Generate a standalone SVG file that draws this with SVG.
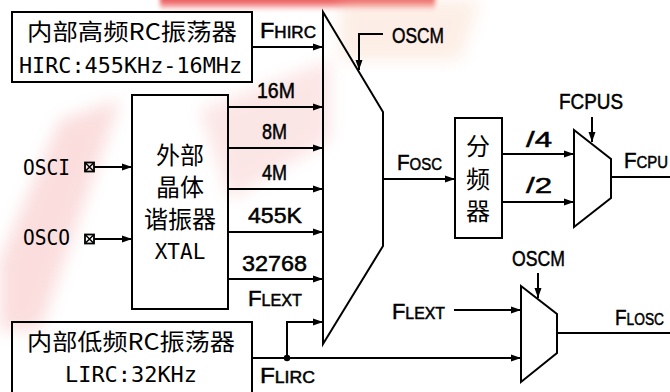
<svg xmlns="http://www.w3.org/2000/svg" width="670" height="392" viewBox="0 0 670 392">
<defs>
<marker id="ah" markerUnits="userSpaceOnUse" markerWidth="11" markerHeight="8" refX="10" refY="4" orient="auto">
<path d="M0,0.5 L10,4 L0,7.5 z" fill="#000"/>
</marker>
<linearGradient id="topred" x1="0" y1="0" x2="0" y2="1">
<stop offset="0" stop-color="#e01818" stop-opacity="1"/>
<stop offset="0.6" stop-color="#ee5050" stop-opacity="0.7"/>
<stop offset="1" stop-color="#f8a0a0" stop-opacity="0"/>
</linearGradient>
<filter id="blur" x="-20%" y="-20%" width="140%" height="140%"><feGaussianBlur stdDeviation="8"/></filter>
<filter id="blur2" x="-10%" y="-50%" width="120%" height="200%"><feGaussianBlur stdDeviation="2"/></filter>
</defs>
<style>
.ln{fill:none;stroke:#000;stroke-width:2}
.ar{fill:none;stroke:#000;stroke-width:2;marker-end:url(#ah)}
.box{fill:none;stroke:#000;stroke-width:2}
.cjk{font-family:"Noto Sans CJK SC","Liberation Sans",sans-serif;font-size:23px;fill:#000}
.cjkc{font-family:"Noto Sans CJK SC",sans-serif;font-size:24px;fill:#000;text-anchor:middle}
.mono{font-family:"DejaVu Sans Mono","Liberation Mono",monospace;font-size:22px;fill:#000}
.lab{font-family:"Liberation Sans",Arial,sans-serif;font-size:22px;fill:#000;stroke:#000;stroke-width:0.5}
.sm{font-size:16px}
</style>
<g id="watermark">
<rect x="160" y="-4" width="275" height="15" fill="url(#topred)" filter="url(#blur2)" opacity="0.9"/>
<path d="M60,120 L120,100 L40,330 L0,330 L0,260 z" fill="#f4a0a0" filter="url(#blur)" opacity="0.35"/>
<path d="M200,110 L330,60 L330,140 L230,200 z" fill="#f6b8b8" filter="url(#blur)" opacity="0.35"/>
<path d="M340,0 L480,0 L460,60 L340,60 z" fill="#f8d0b8" filter="url(#blur)" opacity="0.35"/>
</g>
<g id="connectors">
<line class="ar" x1="252" y1="47" x2="323" y2="47"/>
<line class="ar" x1="228" y1="107" x2="323" y2="107"/>
<line class="ar" x1="228" y1="148" x2="323" y2="148"/>
<line class="ar" x1="228" y1="189" x2="323" y2="189"/>
<line class="ar" x1="228" y1="232" x2="323" y2="232"/>
<line class="ar" x1="228" y1="279" x2="323" y2="279"/>
<polyline class="ar" points="287,358 287,322 323,322"/>
<line class="ar" x1="252" y1="358" x2="521" y2="358"/>
<circle cx="287" cy="358" r="3.2" fill="#000"/>
<line class="ar" x1="94" y1="167" x2="132" y2="167"/>
<line class="ar" x1="94" y1="239" x2="132" y2="239"/>
<polyline class="ar" points="383,34 359,34 359,70"/>
<line class="ar" x1="383" y1="179" x2="455" y2="179"/>
<line class="ar" x1="502" y1="154" x2="574" y2="154"/>
<line class="ar" x1="502" y1="202" x2="574" y2="202"/>
<line class="ar" x1="592" y1="117" x2="592" y2="142"/>
<line class="ln" x1="611" y1="177" x2="670" y2="177"/>
<line class="ar" x1="454" y1="310" x2="521" y2="310"/>
<line class="ar" x1="538" y1="273" x2="538" y2="298"/>
<line class="ln" x1="557" y1="333" x2="670" y2="333"/>
</g>
<g id="hirc">
<rect class="box" x="12" y="12" width="240" height="70"/>
<text class="cjk" x="27" y="40" textLength="210" lengthAdjust="spacingAndGlyphs">内部高频RC振荡器</text>
<text class="mono" x="19" y="73" textLength="223" lengthAdjust="spacingAndGlyphs">HIRC:455KHz-16MHz</text>
</g>
<g id="xtal">
<rect class="box" x="132" y="95" width="96" height="214"/>
<text class="cjkc" x="180" y="164">外部</text>
<text class="cjkc" x="180" y="196">晶体</text>
<text class="cjkc" x="180" y="228">谐振器</text>
<text class="mono" x="180" y="259" text-anchor="middle" style="font-size:21px">XTAL</text>
</g>
<g id="lirc">
<rect class="box" x="12" y="322" width="240" height="76"/>
<text class="cjk" x="27" y="350" textLength="208" lengthAdjust="spacingAndGlyphs">内部低频RC振荡器</text>
<text class="mono" x="65" y="382" textLength="132" lengthAdjust="spacingAndGlyphs">LIRC:32KHz</text>
</g>
<g id="osci">
<text class="mono" x="23" y="175" style="font-size:21px" textLength="47" lengthAdjust="spacingAndGlyphs">OSCI</text>
<rect x="85" y="162.5" width="9" height="9" fill="none" stroke="#000" stroke-width="1.8"/>
<path d="M85,162.5 L94,171.5 M94,162.5 L85,171.5" stroke="#000" stroke-width="1.5"/>
</g>
<g id="osco">
<text class="mono" x="23" y="245" style="font-size:21px" textLength="47" lengthAdjust="spacingAndGlyphs">OSCO</text>
<rect x="85" y="234.5" width="9" height="9" fill="none" stroke="#000" stroke-width="1.8"/>
<path d="M85,234.5 L94,243.5 M94,234.5 L85,243.5" stroke="#000" stroke-width="1.5"/>
</g>
<g id="mux1">
<polygon class="box" points="323,12 383,112 383,246 323,344"/>
</g>
<g id="divider">
<rect class="box" x="455" y="118" width="47" height="120"/>
<text class="cjkc" x="478" y="155">分</text>
<text class="cjkc" x="478" y="188">频</text>
<text class="cjkc" x="478" y="220">器</text>
</g>
<g id="mux_cpu">
<polygon class="box" points="574,130 611,159 611,198 574,227"/>
</g>
<g id="mux_losc">
<polygon class="box" points="521,286 557,314 557,353 521,382"/>
</g>
<g id="labels">
<text class="lab" x="260" y="38" textLength="56" lengthAdjust="spacingAndGlyphs">F<tspan class="sm">HIRC</tspan></text>
<text class="lab" x="257" y="98" textLength="38" lengthAdjust="spacingAndGlyphs">16M</text>
<text class="lab" x="262" y="139" textLength="25" lengthAdjust="spacingAndGlyphs">8M</text>
<text class="lab" x="262" y="180" textLength="25" lengthAdjust="spacingAndGlyphs">4M</text>
<text class="lab" x="248" y="223" textLength="54" lengthAdjust="spacingAndGlyphs">455K</text>
<text class="lab" x="242" y="271" textLength="65" lengthAdjust="spacingAndGlyphs">32768</text>
<text class="lab" x="248" y="306" textLength="54" lengthAdjust="spacingAndGlyphs">F<tspan class="sm">LEXT</tspan></text>
<text class="lab" x="260" y="383" textLength="55" lengthAdjust="spacingAndGlyphs">F<tspan class="sm">LIRC</tspan></text>
<text class="lab" x="392" y="43" textLength="52" lengthAdjust="spacingAndGlyphs">OSCM</text>
<text class="lab" x="397" y="170" textLength="45" lengthAdjust="spacingAndGlyphs">F<tspan class="sm">OSC</tspan></text>
<text class="lab" x="526" y="147" textLength="26" lengthAdjust="spacingAndGlyphs">/4</text>
<text class="lab" x="526" y="193" textLength="26" lengthAdjust="spacingAndGlyphs">/2</text>
<text class="lab" x="559" y="109" textLength="64" lengthAdjust="spacingAndGlyphs">FCPUS</text>
<text class="lab" x="624" y="168" textLength="44" lengthAdjust="spacingAndGlyphs">F<tspan class="sm">CPU</tspan></text>
<text class="lab" x="512" y="266" textLength="53" lengthAdjust="spacingAndGlyphs">OSCM</text>
<text class="lab" x="392" y="319" textLength="53" lengthAdjust="spacingAndGlyphs">F<tspan class="sm">LEXT</tspan></text>
<text class="lab" x="615" y="325" textLength="49" lengthAdjust="spacingAndGlyphs">F<tspan class="sm">LOSC</tspan></text>
</g>
</svg>
